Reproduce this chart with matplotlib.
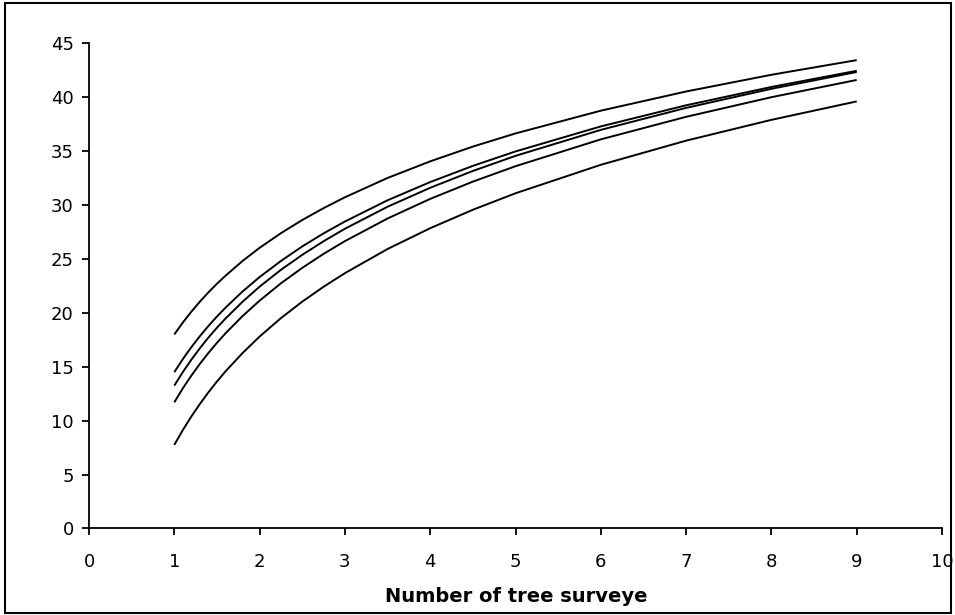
import matplotlib
matplotlib.use("Agg")
import matplotlib.pyplot as plt
from matplotlib.patches import Rectangle

# number of trees surveyed
trees = [1, 1.1, 1.2, 1.3, 1.4, 1.5, 1.6, 1.8, 2, 2.25, 2.5, 2.75, 3, 3.5, 4, 4.5, 5, 6, 7, 8, 9]

# five accumulation curves
curve_a = [18.00, 19.10, 20.11, 21.04, 21.90, 22.70, 23.44, 24.81, 26.03, 27.39, 28.61,
           29.71, 30.72, 32.51, 34.05, 35.42, 36.64, 38.75, 40.53, 42.08, 43.44]
curve_b = [14.50, 15.71, 16.82, 17.84, 18.78, 19.66, 20.48, 21.98, 23.32, 24.81, 26.16,
           27.37, 28.47, 30.44, 32.13, 33.63, 34.97, 37.29, 39.25, 40.95, 42.45]
curve_c = [13.25, 14.51, 15.66, 16.72, 17.71, 18.62, 19.47, 21.03, 22.43, 23.99, 25.38,
           26.64, 27.80, 29.84, 31.60, 33.16, 34.56, 36.97, 39.01, 40.78, 42.34]
curve_d = [11.70, 13.00, 14.18, 15.27, 16.28, 17.22, 18.10, 19.70, 21.13, 22.74, 24.17,
           25.47, 26.65, 28.75, 30.57, 32.17, 33.60, 36.09, 38.18, 40.00, 41.60]
curve_e = [7.75, 9.13, 10.39, 11.55, 12.63, 13.63, 14.57, 16.27, 17.80, 19.51, 21.04,
           22.42, 23.68, 25.92, 27.85, 29.56, 31.09, 33.73, 35.97, 37.90, 39.61]

x_ticks = list(range(0, 11))
y_ticks = list(range(0, 46, 5))

fig = plt.figure(figsize=(9.55, 6.15), dpi=100)
ax = fig.add_axes([0.0932, 0.1407, 0.8932, 0.7889])

for ys in [curve_a, curve_b, curve_c, curve_d, curve_e]:
    ax.plot(trees, ys, color="black", lw=1.4, solid_capstyle="butt")

ax.set_xlim(0, 10)
ax.set_ylim(0, 45)
ax.set_xticks(x_ticks)
ax.set_yticks(y_ticks)
for side in ["top", "right"]:
    ax.spines[side].set_visible(False)
for side in ["left", "bottom"]:
    ax.spines[side].set_linewidth(1.3)
ax.tick_params(direction="out", length=5, width=1.3, labelsize=13)
ax.tick_params(axis="x", pad=13)
ax.tick_params(axis="y", pad=6)

fig.text(0.403, 0.021, "Number of tree surveye", fontsize=14,
         fontweight="bold", ha="left", va="baseline")

# outer chart border
fig.patches.append(Rectangle((0.0052, 0.0033), 0.9906, 0.9919, transform=fig.transFigure,
                             fill=False, edgecolor="black", lw=1.5))

fig.savefig("out.png", dpi=100)
